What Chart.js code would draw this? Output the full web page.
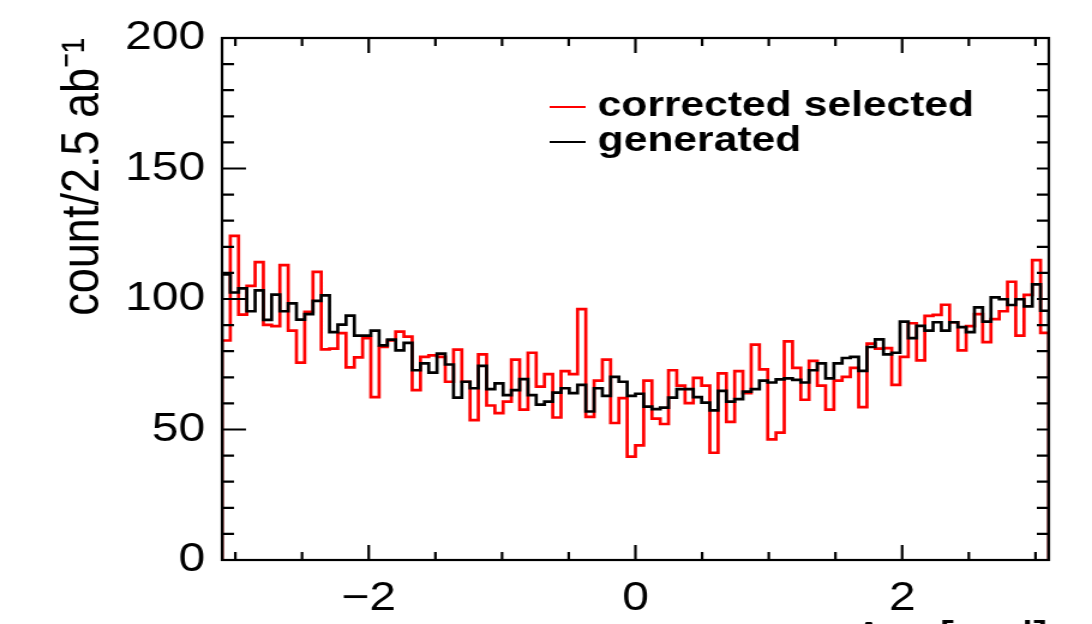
<!DOCTYPE html>
<html>
<head>
<meta charset="utf-8">
<script src="https://cdn.jsdelivr.net/npm/chart.js@4.4.1/dist/chart.umd.min.js"></script>
<style>
  html, body { margin: 0; padding: 0; background: #fff; overflow: hidden; }
</style>
</head>
<body>
<!-- the original plot is stretched sideways, so the canvas is drawn narrow and widened by css -->
<canvas id="chart" width="910" height="624" style="display:block;width:1092px;height:624px"></canvas>
<script>
const xMin = -3.1;
const xMax = 3.1;
const xTickValues = [-2, 0, 2];
const yTickValues = [0, 50, 100, 150, 200];
const seriesLabels = ['corrected selected', 'generated'];

// 100 bins from xMin to xMax
const selected = [
  84.1, 124.2, 94.0, 105.0, 114.1, 90.1, 89.6, 113.0, 87.9, 75.6,
  95.1, 110.4, 80.7, 81.0, 86.9, 73.8, 77.6, 85.0, 62.4, 81.6,
  84.1, 87.5, 85.6, 65.1, 77.8, 78.4, 77.8, 68.3, 80.6, 68.3,
  53.6, 78.8, 59.2, 56.3, 60.7, 76.8, 57.6, 79.4, 66.4, 71.2,
  54.6, 72.4, 71.2, 96.1, 54.8, 68.7, 76.8, 52.5, 62.0, 39.6,
  43.9, 68.7, 54.2, 52.1, 72.7, 66.8, 60.1, 69.8, 66.8, 41.1,
  71.5, 52.9, 72.4, 63.9, 82.5, 73.0, 46.2, 48.8, 83.8, 73.6,
  61.4, 76.3, 66.8, 57.6, 68.7, 70.2, 73.6, 58.6, 82.9, 81.0,
  81.2, 67.1, 77.8, 90.7, 76.5, 93.5, 93.9, 97.8, 91.1, 80.3,
  89.6, 94.2, 83.5, 92.3, 95.3, 106.6, 86.0, 101.6, 114.9, 87.0
];
const generated = [
  109.4, 102.5, 104.1, 95.3, 103.3, 92.0, 101.7, 95.3, 98.3, 92.1,
  94.2, 99.3, 101.4, 87.3, 90.2, 93.6, 86.0, 86.0, 87.9, 82.2,
  84.4, 80.3, 83.2, 72.7, 75.3, 71.8, 79.1, 74.9, 62.2, 68.3,
  65.8, 74.4, 65.5, 67.7, 63.2, 65.1, 69.3, 63.2, 59.5, 60.7,
  64.1, 65.8, 63.9, 67.1, 56.9, 65.8, 62.9, 70.2, 68.3, 62.9,
  63.7, 58.8, 57.8, 58.4, 62.2, 65.5, 65.5, 62.4, 60.3, 57.3,
  64.8, 60.7, 61.6, 64.5, 65.5, 68.7, 68.0, 69.2, 69.6, 69.0,
  68.0, 72.7, 75.3, 69.6, 75.3, 77.4, 77.8, 72.5, 81.6, 84.5,
  78.8, 79.4, 91.3, 85.0, 89.7, 87.9, 91.1, 87.9, 91.1, 89.2,
  87.3, 96.8, 91.3, 100.6, 99.9, 97.7, 99.9, 97.2, 105.6, 95.5
];

const family = '"Liberation Sans", Arial, Helvetica, sans-serif';

// histogram outline: every bin edge gets the level on both sides
function outline(values) {
  const w = (xMax - xMin) / values.length;
  const pts = [{ x: xMin, y: 0 }];
  values.forEach((v, i) => {
    pts.push({ x: xMin + i * w, y: v });
    pts.push({ x: xMin + (i + 1) * w, y: v });
  });
  pts.push({ x: xMax, y: 0 });
  return pts;
}

// ROOT style frame with ticks pointing inwards
const rootFrame = {
  id: 'rootFrame',
  afterDatasetsDraw(chart) {
    const { ctx, chartArea: a, scales: { x, y } } = chart;
    ctx.save();
    ctx.strokeStyle = '#000';
    ctx.lineWidth = 2.2;
    ctx.beginPath();
    for (let v = -3; v <= 3.001; v += 0.5) {
      const px = x.getPixelForValue(v);
      const len = xTickValues.includes(Math.round(v * 10) / 10) ? 15 : 8;
      ctx.moveTo(px, a.bottom); ctx.lineTo(px, a.bottom - len);
      ctx.moveTo(px, a.top); ctx.lineTo(px, a.top + len);
    }
    for (let v = 0; v <= 200; v += 10) {
      const py = y.getPixelForValue(v);
      const len = v % 50 === 0 ? 20 : 10;
      ctx.moveTo(a.left, py); ctx.lineTo(a.left + len, py);
      ctx.moveTo(a.right, py); ctx.lineTo(a.right - 10, py);
    }
    ctx.stroke();
    ctx.strokeRect(a.left, a.top, a.right - a.left, a.bottom - a.top);
    ctx.restore();
  }
};

// legend in the upper right, no box
const rootLegend = {
  id: 'rootLegend',
  afterDraw(chart) {
    const ctx = chart.ctx;
    ctx.save();
    ctx.font = 'bold 35.5px ' + family;
    ctx.textBaseline = 'alphabetic';
    ctx.textAlign = 'left';
    chart.data.datasets.forEach((ds, i) => {
      const base = 116 + i * 35;
      ctx.strokeStyle = ds.borderColor;
      ctx.lineWidth = 2;
      ctx.beginPath();
      ctx.moveTo(458, base - 9);
      ctx.lineTo(488, base - 9);
      ctx.stroke();
      ctx.fillStyle = '#000';
      ctx.fillText(ds.label, 498, base);
    });
    ctx.restore();
  }
};

new Chart(document.getElementById('chart'), {
  type: 'line',
  data: {
    datasets: [
      {
        label: seriesLabels[0],
        data: outline(selected),
        borderColor: '#ff0000',
        borderWidth: 2.7,
        pointRadius: 0,
        tension: 0,
        fill: false,
        order: 2
      },
      {
        label: seriesLabels[1],
        data: outline(generated),
        borderColor: '#000000',
        borderWidth: 2.7,
        pointRadius: 0,
        tension: 0,
        fill: false,
        order: 1
      }
    ]
  },
  options: {
    responsive: false,
    animation: false,
    devicePixelRatio: 1,
    layout: { padding: { left: 0, right: 36, top: 33, bottom: 0 } },
    plugins: {
      legend: { display: false },
      tooltip: { enabled: false }
    },
    scales: {
      x: {
        type: 'linear',
        min: xMin,
        max: xMax,
        grid: { display: false, drawTicks: false },
        border: { display: false },
        afterBuildTicks: s => { s.ticks = xTickValues.map(v => ({ value: v })); },
        afterFit: s => { s.height = 64; },
        ticks: {
          padding: 15,
          color: '#000',
          maxRotation: 0,
          autoSkip: false,
          font: { size: 40, family },
          callback: v => String(v).replace('-', '\u2212')
        },
        title: {
          display: true,
          text: '\u0394\u03c6 [rad]',
          align: 'end',
          color: '#000',
          font: { size: 46, family },
          padding: { top: 0, bottom: -45 }
        }
      },
      y: {
        min: 0,
        max: 200,
        grid: { display: false, drawTicks: false },
        border: { display: false },
        afterBuildTicks: s => { s.ticks = yTickValues.map(v => ({ value: v })); },
        afterFit: s => { s.width = 185; },
        ticks: {
          padding: 14,
          color: '#000',
          font: { size: 40, family }
        },
        title: {
          display: true,
          text: 'count/2.5 ab\u207b\u00b9',
          align: 'end',
          color: '#000',
          font: { size: 45, family },
          padding: { top: 43, bottom: 0 }
        }
      }
    }
  },
  plugins: [rootFrame, rootLegend]
});
</script>
</body>
</html>
